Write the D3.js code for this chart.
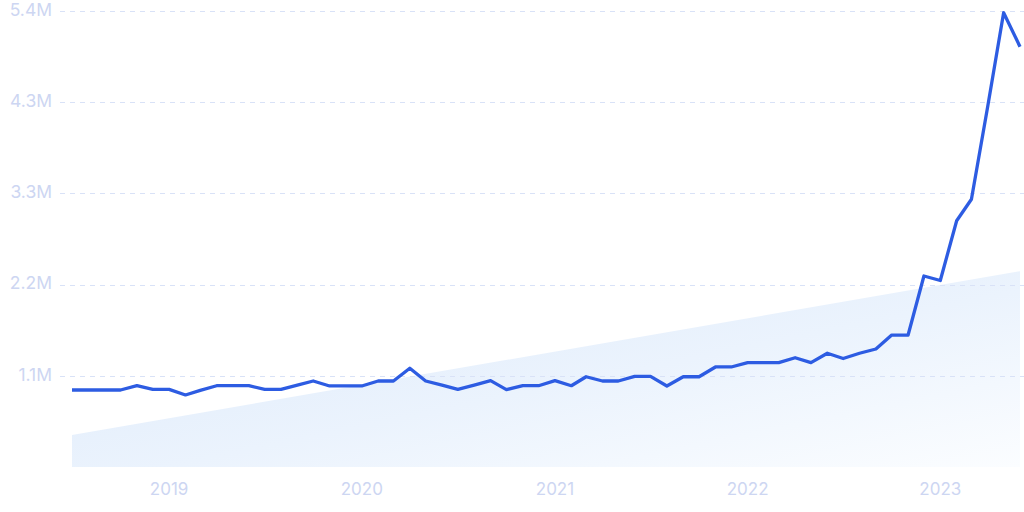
<!DOCTYPE html>
<html>
<head>
<meta charset="utf-8">
<script src="https://cdn.jsdelivr.net/npm/d3@7"></script>
<style>
  html, body { margin: 0; padding: 0; background: #ffffff; }
  svg { display: block; }
</style>
</head>
<body>
<svg id="chart" width="1024" height="512"></svg>
<script>
// ---- Data ----
const months = [
  "2018-07","2018-08","2018-09","2018-10","2018-11","2018-12",
  "2019-01","2019-02","2019-03","2019-04","2019-05","2019-06","2019-07","2019-08","2019-09","2019-10","2019-11","2019-12",
  "2020-01","2020-02","2020-03","2020-04","2020-05","2020-06","2020-07","2020-08","2020-09","2020-10","2020-11","2020-12",
  "2021-01","2021-02","2021-03","2021-04","2021-05","2021-06","2021-07","2021-08","2021-09","2021-10","2021-11","2021-12",
  "2022-01","2022-02","2022-03","2022-04","2022-05","2022-06","2022-07","2022-08","2022-09","2022-10","2022-11","2022-12",
  "2023-01","2023-02","2023-03","2023-04","2023-05","2023-06"
];
const searchVolume = [
  916000, 916000, 916000, 916000, 967000, 924000,
  924000, 857000, 912000, 967000, 967000, 967000, 924000, 924000, 975000, 1023000, 964000, 964000,
  964000, 1023000, 1023000, 1174000, 1023000, 975000, 924000, 975000, 1027000, 920000, 967000, 967000,
  1027000, 967000, 1074000, 1023000, 1023000, 1078000, 1078000, 964000, 1074000, 1074000, 1190000, 1190000,
  1241000, 1241000, 1241000, 1300000, 1241000, 1353000, 1291000, 1353000, 1404000, 1570000, 1570000, 2272000,
  2219000, 2930000, 3185000, 4295000, 5404000, 5000000
];
const trendStartEnd = ["2018-07", "2023-06"];
const trendValues = [380000, 2330000];
const yTickValues = [1085000, 2170000, 3255000, 4340000, 5425000];
const yTickLabels = ["1.1M", "2.2M", "3.3M", "4.3M", "5.4M"];
const xTickYears = ["2019-01", "2020-01", "2021-01", "2022-01", "2023-01"];
const xTickLabels = ["2019", "2020", "2021", "2022", "2023"];

// ---- Setup ----
const parse = d3.timeParse("%Y-%m");
const svg = d3.select("#chart");
const W = 1024, H = 512;
const plotLeft = 72, plotRight = 1020, plotTop = 11, plotBottom = 467;

const x = d3.scaleTime()
  .domain([parse(months[0]), parse(months[months.length - 1])])
  .range([plotLeft, plotRight]);
const y = d3.scaleLinear()
  .domain([0, 5425000])
  .range([plotBottom, plotTop]);

// gradient
const defs = svg.append("defs");
const grad = defs.append("linearGradient")
  .attr("id", "trendGrad")
  .attr("x1", "0").attr("y1", "0").attr("x2", "1").attr("y2", "1");
grad.append("stop").attr("offset", "0%").attr("stop-color", "#dce9fa");
grad.append("stop").attr("offset", "55%").attr("stop-color", "#ebf3fd");
grad.append("stop").attr("offset", "100%").attr("stop-color", "#fbfdff");

// trend area
const trendData = trendStartEnd.map((m, i) => ({ d: parse(m), v: trendValues[i] }));
const area = d3.area()
  .x(d => x(d.d))
  .y0(y(0))
  .y1(d => y(d.v));
svg.append("path")
  .datum(trendData)
  .attr("d", area)
  .attr("fill", "url(#trendGrad)");

// grid lines
const grid = svg.append("g");
grid.selectAll("line")
  .data(yTickValues)
  .join("line")
  .attr("x1", 60)
  .attr("x2", W)
  .attr("y1", d => Math.round(y(d)) + 0.5)
  .attr("y2", d => Math.round(y(d)) + 0.5)
  .attr("stroke", "#d9e2f7")
  .attr("stroke-width", 1)
  .attr("stroke-dasharray", "5,5");

// y labels
svg.append("g").selectAll("text")
  .data(yTickValues)
  .join("text")
  .attr("x", 52)
  .attr("y", d => y(d))
  .attr("text-anchor", "end")
  .attr("dominant-baseline", "middle")
  .attr("font-family", "Inter, 'Open Sans', sans-serif")
  .attr("font-size", 17.5)
  .attr("fill", "#cdd6f2")
  .text((d, i) => yTickLabels[i]);

// x labels
svg.append("g").selectAll("text")
  .data(xTickYears)
  .join("text")
  .attr("x", d => x(parse(d)))
  .attr("y", 490)
  .attr("text-anchor", "middle")
  .attr("dominant-baseline", "middle")
  .attr("font-family", "Inter, 'Open Sans', sans-serif")
  .attr("font-size", 17)
  .attr("fill", "#cdd6f2")
  .text((d, i) => xTickLabels[i]);

// line
const lineData = months.map((m, i) => ({ d: parse(m), v: searchVolume[i] }));
const line = d3.line()
  .x(d => x(d.d))
  .y(d => y(d.v));
svg.append("path")
  .datum(lineData)
  .attr("d", line)
  .attr("fill", "none")
  .attr("stroke", "#2d5ce2")
  .attr("stroke-width", 3.3)
  .attr("stroke-linejoin", "round")
  .attr("stroke-linecap", "butt");
</script>
</body>
</html>
